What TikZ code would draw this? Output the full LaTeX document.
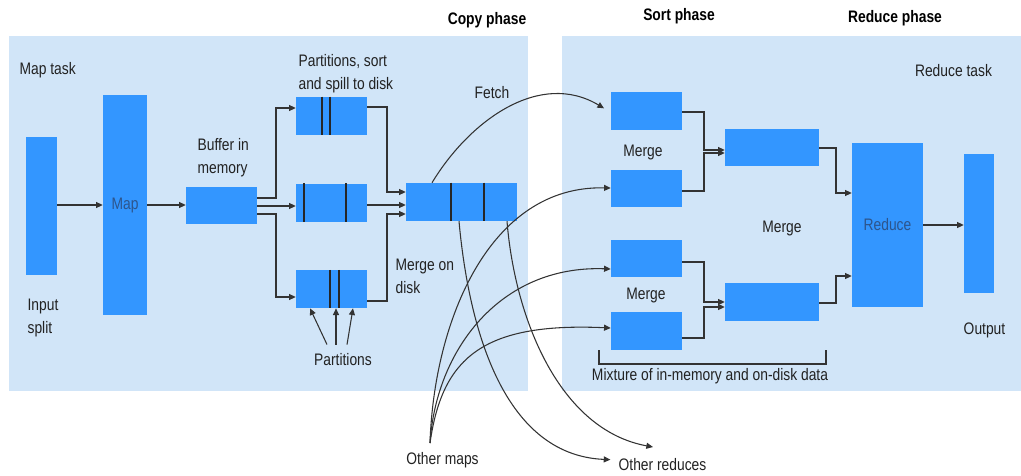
\documentclass[tikz,border=0pt]{standalone}
\usepackage{fontspec}
\setmainfont{Liberation Sans}[FakeStretch=0.83]
\usetikzlibrary{arrows.meta, positioning}
\definecolor{paneblue}{RGB}{209,229,248}
\definecolor{blkblue}{RGB}{51,150,255}
\definecolor{lineg}{RGB}{51,51,51}
\definecolor{txtg}{RGB}{34,34,34}
\definecolor{inkblue}{RGB}{45,85,140}

\begin{document}
\begin{tikzpicture}[x=0.75pt, y=-0.75pt,
  panel/.style={fill=paneblue},
  blk/.style={fill=blkblue, inner sep=0pt, font=\fontsize{12.5}{15}\selectfont, text=inkblue},
  arr/.style={-{Triangle[length=5pt,width=4.5pt]}, line width=0.8pt, color=lineg},
  wire/.style={line width=0.8pt, color=lineg},
  div/.style={line width=0.9pt, color=black!85},
  lbl/.style={font=\fontsize{12.5}{16.8}\selectfont, text=txtg, inner sep=1pt, align=left},
  ttl/.style={font=\fontsize{12.5}{15}\selectfont\bfseries, text=black, inner sep=1pt}
]
  \useasboundingbox (0,0) rectangle (1021,475);

  % background panels
  \fill[panel] (9,36) rectangle (528,391);
  \fill[panel] (562,36) rectangle (1021,391);

  % phase titles
  \node[ttl] (tcopy) at (487,20) {Copy phase};
  \node[ttl] (tsort) at (679,16) {Sort phase};
  \node[ttl] (tred)  at (895,18) {Reduce phase};
  \node[lbl, anchor=west] (maptask) at (18,70) {Map task};
  \node[lbl] (redtask) at (953.5,71) {Reduce task};

  % map side
  \node[blk, minimum width=23.25pt, minimum height=103.5pt] (isp) at (41.5,205.5) {};
  \node[blk, minimum width=33pt, minimum height=165pt] (map) at (125,205) {Map};
  \node[blk, minimum width=53.25pt, minimum height=27.75pt] (buf) at (221.5,205.5) {};
  \node[blk, minimum width=53.25pt, minimum height=28.5pt] (p1) at (331.5,116) {};
  \node[blk, minimum width=53.25pt, minimum height=28.5pt, below=36pt of p1] (p2) {};
  \node[blk, minimum width=53.25pt, minimum height=28.5pt, below=36pt of p2] (p3) {};
  \node[blk, minimum width=83.25pt, minimum height=28.5pt] (cm) at (461.5,202) {};

  % reduce side
  \node[blk, minimum width=53.25pt, minimum height=28.5pt] (sa) at (646.5,111) {};
  \node[blk, minimum width=53.25pt, minimum height=27.75pt, below=29.25pt of sa] (sb) {};
  \node[blk, minimum width=53.25pt, minimum height=27.75pt] (sc) at (646.5,258.5) {};
  \node[blk, minimum width=53.25pt, minimum height=28.5pt, below=25.5pt of sc] (sd) {};
  \node[blk, minimum width=70.5pt, minimum height=27.75pt] (me) at (772,147.5) {};
  \node[blk, minimum width=70.5pt, minimum height=28.5pt] (mf) at (772,302) {};
  \node[blk, minimum width=53.25pt, minimum height=123pt] (red) at (887.5,225) {Reduce};
  \node[blk, minimum width=22.5pt, minimum height=104.25pt] (out) at (979,223.5) {};

  % partition dividers
  \foreach \bx/\dx in {p1/322, p1/330, p2/304, p2/346, p3/330, p3/339, cm/451, cm/484}
    \draw[div] (\bx.north -| \dx,0) -- (\bx.south -| \dx,0);

  % labels
  \node[lbl, anchor=west] (insplit) at (26,318) {Input\\split};
  \node[lbl, anchor=west] (bufl) at (196,157.5) {Buffer in\\memory};
  \node[lbl, anchor=west] (psort) at (297,73.5) {Partitions, sort\\and spill to disk};
  \node[lbl] (fetch) at (492,93) {Fetch};
  \node[lbl, anchor=west] (mdisk) at (394,276.5) {Merge on\\disk};
  \node[lbl, outer sep=6pt] (parts) at (343,360) {Partitions};
  \node[lbl] (mg1) at (643,152) {Merge};
  \node[lbl] (mg2) at (646,295) {Merge};
  \node[lbl] (mg3) at (782,228) {Merge};
  \node[lbl] (outl) at (984.5,330) {Output};
  \node[lbl] (mix) at (710,376) {Mixture of in-memory and on-disk data};
  \node[lbl] (omaps) at (442.5,460) {Other maps};
  \node[lbl] (ored) at (662.5,465) {Other reduces};
  \coordinate (om) at (430,443);
  \coordinate (rx) at (653,447);

  % map task flow
  \draw[arr] (isp.east |- map.west) -- (map.west);
  \draw[arr] (map.east) -- (map.east -| buf.west);
  \draw[arr] (buf.east |- 0,198) -- (276,198) |- (p1.west |- 0,108);
  \draw[arr] (buf.east |- 0,206) -- (p2.west |- 0,206);
  \draw[arr] (buf.east |- 0,214) -- (276,214) |- (p3.west |- 0,297);
  \draw[arr] (p1.east |- 0,107) -- (387,107) |- (cm.west |- 0,192);
  \draw[arr] (p2.east |- 0,205) -- (cm.west |- 0,205);
  \draw[arr] (p3.east |- 0,301) -- (387,301) |- (cm.west |- 0,214);
  \draw[arr] (parts.north -| 327,0) -- (p3.south -| 310,0);
  \draw[arr] (parts.north -| 336,0) -- (p3.south -| 336,0);
  \draw[arr] (parts.north -| 347,0) -- (p3.south -| 353,0);

  % fetch and other tasks
  \draw[arr] (cm.north -| 432,0) .. controls (470,120) and (540,70) .. ([xshift=-5pt,yshift=2pt]sa.west);
  \draw[arr] (om) .. controls (434,320) and (490,185) .. (sb.west);
  \draw[arr] (om) .. controls (436,350) and (500,265) .. (sc.west |- 0,269);
  \draw[arr] (om) .. controls (442,360) and (480,322) .. (sd.west |- 0,328);
  \draw[arr] (cm.south -| 459,0) .. controls (468,320) and (500,455) .. ([xshift=-5pt,yshift=4pt]ored.west);
  \draw[arr] (cm.south -| 507,0) .. controls (515,320) and (560,430) .. (rx);

  % reduce task flow
  \draw[arr] (sa.east |- 0,112) -- (704,112) |- (me.west |- 0,150);
  \draw[arr] (sb.east |- 0,191) -- (704,191) |- (me.west |- 0,153);
  \draw[arr] (sc.east |- 0,262) -- (704,262) |- (mf.west |- 0,302);
  \draw[arr] (sd.east |- 0,338) -- (704,338) |- (mf.west |- 0,307);
  \draw[arr] (me.east |- 0,148) -- (836,148) |- (red.west |- 0,193);
  \draw[arr] (mf.east |- 0,303) -- (836,303) |- (red.west |- 0,276);
  \draw[arr] (red.east) -- (out.west |- red.east);

  % bracket
  \draw[wire] (599,350) -- (599,364) -- (826,364) -- (826,350);
\end{tikzpicture}
\end{document}
